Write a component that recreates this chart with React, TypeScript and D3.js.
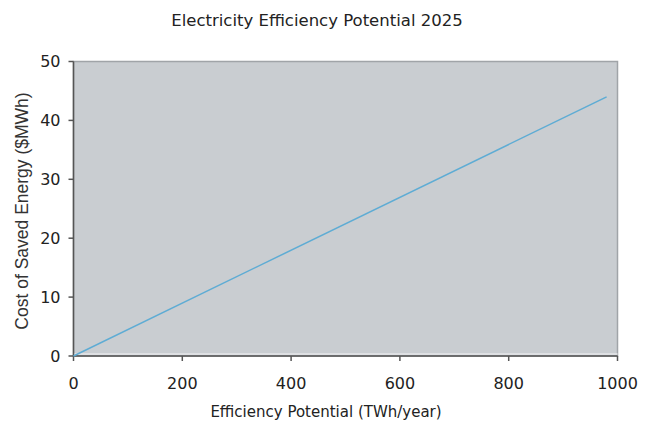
import React from "react";
import * as d3 from "d3";

const title = "Electricity Efficiency Potential 2025";
const xLabel = "Efficiency Potential (TWh/year)";
const yLabel = "Cost of Saved Energy ($MWh)";
const potential = [0, 980];
const cost = [0, 44];
const xTicks = [0, 200, 400, 600, 800, 1000];
const yTicks = [0, 10, 20, 30, 40, 50];

export default function App() {
  const W = 650, H = 422;
  const L = 73.5, R = 617.5, T = 61.5, B = 356;
  const x = d3.scaleLinear().domain([0, 1000]).range([L, R]);
  const y = d3.scaleLinear().domain([0, 50]).range([B, T]);
  const pts = potential.map((p, i) => [p, cost[i]] as [number, number]);
  const line = d3.line<[number, number]>().x(d => x(d[0])).y(d => y(d[1]));
  const font = "DejaVu Sans, Verdana, sans-serif";
  return (
    <svg width={W} height={H} style={{ position: "absolute", left: 0, top: 0, background: "#fff" }}>
      <text x={317} y={26} textAnchor="middle" fontFamily={font} fontSize={16.5} fill="#222">{title}</text>
      <rect x={L} y={T} width={R - L} height={B - T} fill="#c9cdd1" stroke="#a0a4a8" strokeWidth={1.5} />
      <line x1={L} x2={R} y1={B - 2} y2={B - 2} stroke="#e4e6e8" strokeWidth={1.5} />
      <line x1={L} x2={L} y1={T} y2={B} stroke="#555" strokeWidth={1.5} />
      <line x1={L} x2={R} y1={B} y2={B} stroke="#555" strokeWidth={1.5} />
      {yTicks.map(t => (
        <g key={"y" + t}>
          <line x1={L - 5} x2={L} y1={y(t)} y2={y(t)} stroke="#555" strokeWidth={1.5} />
          <text x={L - 13} y={y(t)} dy="0.36em" textAnchor="end" fontFamily={font} fontSize={16} fill="#222">{t}</text>
        </g>
      ))}
      {xTicks.map(t => (
        <g key={"x" + t}>
          <line x1={x(t)} x2={x(t)} y1={B} y2={B + 5} stroke="#555" strokeWidth={1.5} />
          <text x={x(t)} y={B + 33} textAnchor="middle" fontFamily={font} fontSize={16} fill="#222">{t}</text>
        </g>
      ))}
      <path d={line(pts) || ""} fill="none" stroke="#5eacd4" strokeWidth={1.5} />
      <text x={326} y={417} textAnchor="middle" fontFamily={font} fontSize={15} fill="#222">{xLabel}</text>
      <text transform={`translate(28,211) rotate(-90)`} textAnchor="middle" fontFamily="Liberation Sans, Arial, sans-serif" fontSize={17.5} fill="#333">{yLabel}</text>
    </svg>
  );
}
